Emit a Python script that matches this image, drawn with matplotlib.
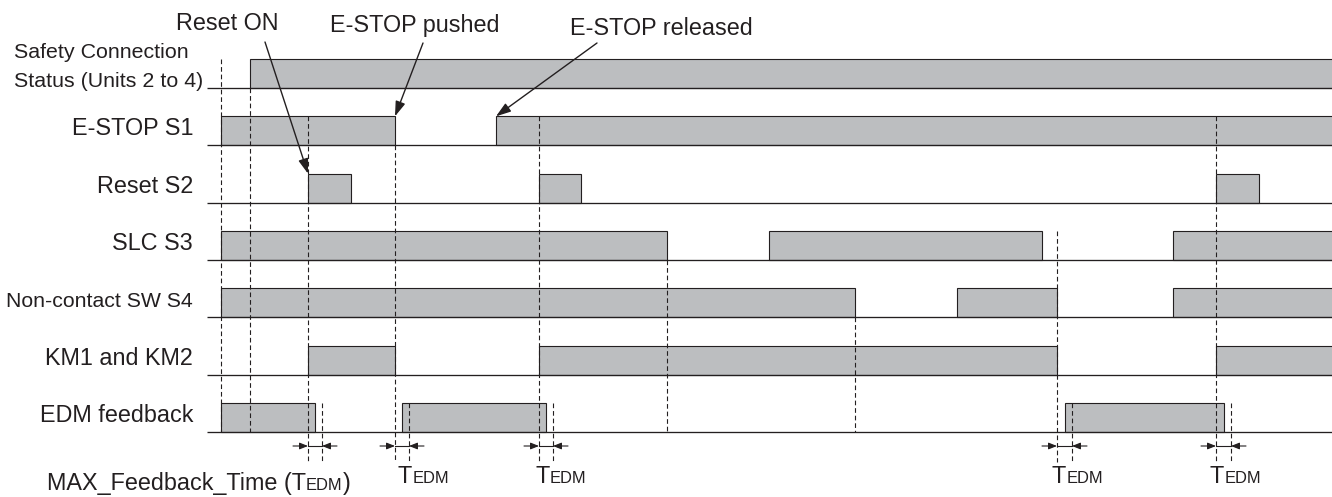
import matplotlib
matplotlib.use("Agg")
import matplotlib.pyplot as plt
from matplotlib.patches import Rectangle

# ---------------- data ----------------
safety_label = ["Safety Connection", "Status (Units 2 to 4)"]
row_labels = ["E-STOP S1", "Reset S2", "SLC S3", "Non-contact SW S4",
              "KM1 and KM2", "EDM feedback"]

T_END = 1345  # beyond the visible window (signal stays ON)

# ON intervals of each signal (time units of the diagram)
safety_on = [(250, T_END)]
estop_on = [(221, 395), (496, T_END)]
reset_on = [(308, 351), (539, 581), (1216, 1259)]
slc_on = [(221, 667), (769, 1042), (1173, T_END)]
s4_on = [(221, 855), (957, 1057), (1173, T_END)]
km_on = [(308, 395), (539, 1057), (1216, T_END)]
edm_on = [(221, 315), (402, 546), (1065, 1224)]

signals = [safety_on, estop_on, reset_on, slc_on, s4_on, km_on, edm_on]

# MAX_Feedback_Time windows
tedm_start = [308, 395, 539, 1057, 1216]
tedm_end = [322, 409, 553, 1072, 1231]

# vertical dashed guide lines: time, (row, level) where it starts, where it ends
guide_times = [221, 250, 308, 395, 539, 667, 855, 1057, 1216]
guide_from = [(0, "top"), (0, "base"), (1, "top"), (1, "base"), (1, "top"),
              (3, "base"), (4, "base"), (3, "top"), (1, "top")]
guide_to = ["edm", "edm", "tedm", "tedm", "tedm", "edm", "edm", "tedm", "tedm"]

event_labels = ["Reset ON", "E-STOP pushed", "E-STOP released"]

# ---------------- layout ----------------
W, H = 1332, 497
INK = "#231f20"
FILL = "#bcbec0"
BASE0, ROW_STEP, PULSE_H = 88, 57.33, 29
X_LINE0 = 207
ARROW_Y = 446
TEDM_BOTTOM = 462
FS = 16.8
FS_SMALL = 11.9


def base_y(i):
    return BASE0 + ROW_STEP * i


def top_y(i):
    return base_y(i) - PULSE_H


def level_y(spec):
    r, lv = spec
    return top_y(r) if lv == "top" else base_y(r)


plt.rcParams["font.family"] = ["Liberation Sans", "DejaVu Sans"]
fig = plt.figure(figsize=(W / 100, H / 100), dpi=100)
ax = fig.add_axes([0, 0, 1, 1])
ax.set_xlim(0, W)
ax.set_ylim(H, 0)
ax.axis("off")

# baselines and pulses
for i, sig in enumerate(signals):
    yb = base_y(i)
    ax.plot([X_LINE0, W + 5], [yb, yb], color=INK, lw=0.95,
            solid_capstyle="butt", zorder=3)
    for (t0, t1) in sig:
        ax.add_patch(Rectangle((t0, yb - PULSE_H), t1 - t0, PULSE_H,
                               facecolor=FILL, edgecolor=INK, lw=0.8, zorder=2))

# dashed guides
dash = (0, (4.2, 2.6))
for t, fr, to in zip(guide_times, guide_from, guide_to):
    y0 = level_y(fr)
    y1 = base_y(6) if to == "edm" else TEDM_BOTTOM
    ax.plot([t, t], [y0, y1], color=INK, lw=0.8, linestyle=dash, zorder=4)
for t in tedm_end:
    ax.plot([t, t], [top_y(6), TEDM_BOTTOM], color=INK, lw=0.8,
            linestyle=dash, zorder=4)

# TEDM arrows
aprops = dict(arrowstyle="-|>,head_length=0.5,head_width=0.2", color=INK,
              lw=0.8, shrinkA=0, shrinkB=0, mutation_scale=10)
for s, e in zip(tedm_start, tedm_end):
    ax.annotate("", xy=(s, ARROW_Y), xytext=(s - 15, ARROW_Y), arrowprops=aprops)
    ax.annotate("", xy=(e, ARROW_Y), xytext=(e + 15, ARROW_Y), arrowprops=aprops)
    ax.plot([s, e], [ARROW_Y, ARROW_Y], color=INK, lw=0.8)


def chain(prev, txt, size, y):
    # x: right edge of previous text, y: same data baseline
    return ax.annotate(txt, xy=(1, y), xycoords=(prev, "data"),
                       ha="left", va="baseline", fontsize=size, color=INK)


def tedm_label(x, y, prefix="", suffix=""):
    t = ax.text(x, y, prefix + "T", fontsize=FS, color=INK, ha="left",
                va="baseline")
    s = chain(t, "EDM", FS_SMALL, y)
    if suffix:
        chain(s, suffix, FS, y)


label_dx = [3, -4, -5, -6]
for s, dx in zip(tedm_start[1:], label_dx):
    tedm_label(s + dx, 483)
tedm_label(47, 490, prefix="MAX_Feedback_Time (", suffix=")")

# row labels
ax.text(14, 58, safety_label[0], fontsize=15.4, color=INK, ha="left",
        va="baseline")
ax.text(14, 87, safety_label[1], fontsize=15.4, color=INK, ha="left",
        va="baseline")
for i, lab in enumerate(row_labels, start=1):
    fs = 15.3 if lab.startswith("Non") else FS
    ax.text(193, base_y(i) - 10, lab, fontsize=fs, color=INK, ha="right",
            va="baseline")

# event annotations
ax.text(227, 30, event_labels[0], fontsize=FS, color=INK, ha="center",
        va="baseline")
ax.text(330, 32, event_labels[1], fontsize=FS, color=INK, ha="left",
        va="baseline")
ax.text(570, 35, event_labels[2], fontsize=FS, color=INK, ha="left",
        va="baseline")

bprops = dict(arrowstyle="-|>,head_length=0.9,head_width=0.3", color=INK,
              lw=1.0, shrinkA=0, shrinkB=0, mutation_scale=10)
ax.annotate("", xy=(reset_on[0][0], top_y(2)), xytext=(265, 42),
            arrowprops=bprops, zorder=6)
ax.annotate("", xy=(estop_on[0][1], top_y(1)), xytext=(423, 43),
            arrowprops=bprops, zorder=6)
ax.annotate("", xy=(estop_on[1][0], top_y(1)), xytext=(597, 43),
            arrowprops=bprops, zorder=6)

fig.savefig("out.png", dpi=100, facecolor="white")
